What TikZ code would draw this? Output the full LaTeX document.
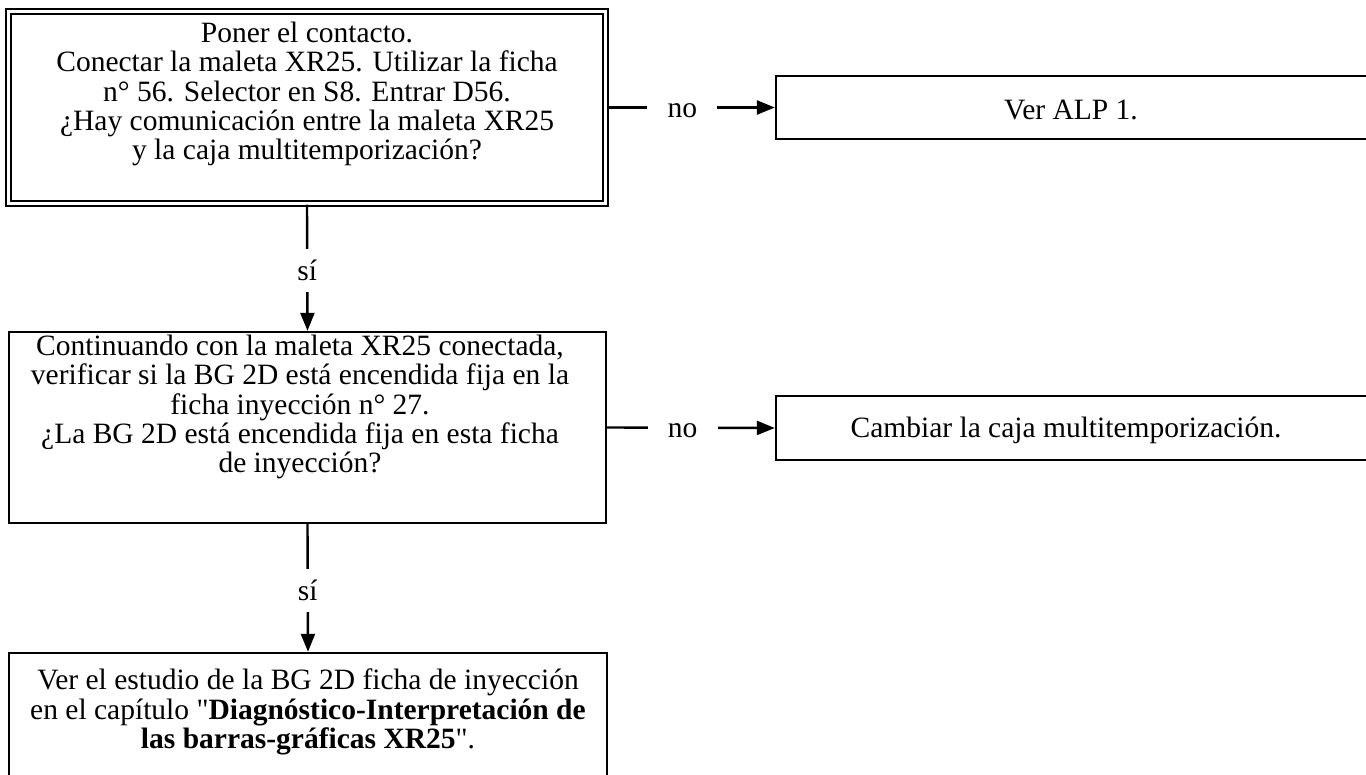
\documentclass[tikz,border=0pt]{standalone}
\usepackage{fontspec}
\setmainfont{Liberation Serif}
\newfontfamily\qfont{Liberation Serif}
\usetikzlibrary{arrows.meta}
\begin{document}
\begin{tikzpicture}[x=1pt,y=-1pt,
  box/.style={draw, line width=2.4pt, inner sep=0pt},
  dbox/.style={draw, line width=2.1pt, double, double distance=2.8pt, inner sep=0pt},
  txt/.style={align=center, inner sep=0pt, font=\fontsize{29.5}{29.2}\selectfont},
  conn/.style={line width=2.4pt, -{Triangle[length=18pt,width=14pt]}},
  lbl/.style={fill=white, inner sep=0pt, minimum width=70pt, minimum height=43pt, font=\fontsize{29.5}{29.2}\selectfont}]
\clip (0,0) rectangle (1366,775);
\fill[white] (0,0) rectangle (1366,775);
% boxes
\node[dbox, minimum width=597pt, minimum height=192pt] (b1) at (307,107.5) {};
\node[box, minimum width=610pt, minimum height=63pt] (alp) at (1081,107.5) {};
\node[box, minimum width=597pt, minimum height=191pt] (b2) at (307.5,427.5) {};
\node[box, minimum width=610pt, minimum height=64pt] (camb) at (1081,428) {};
\node[box, minimum width=598pt, minimum height=147pt] (b3) at (308,726.5) {};
% texts
\node[txt] (t1) at (307,94) {Poner el contacto.\\Conectar la maleta XR25. Utilizar la ficha\\n° 56. Selector en S8. Entrar D56.\\¿Hay comunicación entre la maleta XR25\\y la caja multitemporización?};
\node[txt] (talp) at (1071,110) {Ver ALP 1.};
\node[txt] (t2) at (300,407) {Continuando con la maleta XR25 conectada,\\verificar si la BG 2D está encendida fija en la\\ficha inyección n° 27.\\¿La BG 2D está encendida fija en esta ficha\\de inyección?};
\node[txt] (tcamb) at (1066,430) {Cambiar la caja multitemporización.};
\node[txt] (t3) at (308,712) {Ver el estudio de la BG 2D ficha de inyección\\en el capítulo {\qfont"}\textbf{Diagnóstico-Interpretación de}\\\textbf{las barras-gráficas XR25}{\qfont"}.};
% connectors
\draw[conn] (b1.east) -- node[lbl, pos=0.45, yshift=-3pt] (no1) {no} (alp.west);
\draw[conn] (b1.south) -- node[lbl, pos=0.506, yshift=-2pt] (si1) {sí} (b2.north);
\draw[conn] (b2.east) -- node[lbl, pos=0.45, yshift=-3pt] (no2) {no} (camb.west);
\draw[conn] (b2.south) -- node[lbl, pos=0.504, yshift=-2pt] (si2) {sí} (b3.north);
\end{tikzpicture}
\end{document}
